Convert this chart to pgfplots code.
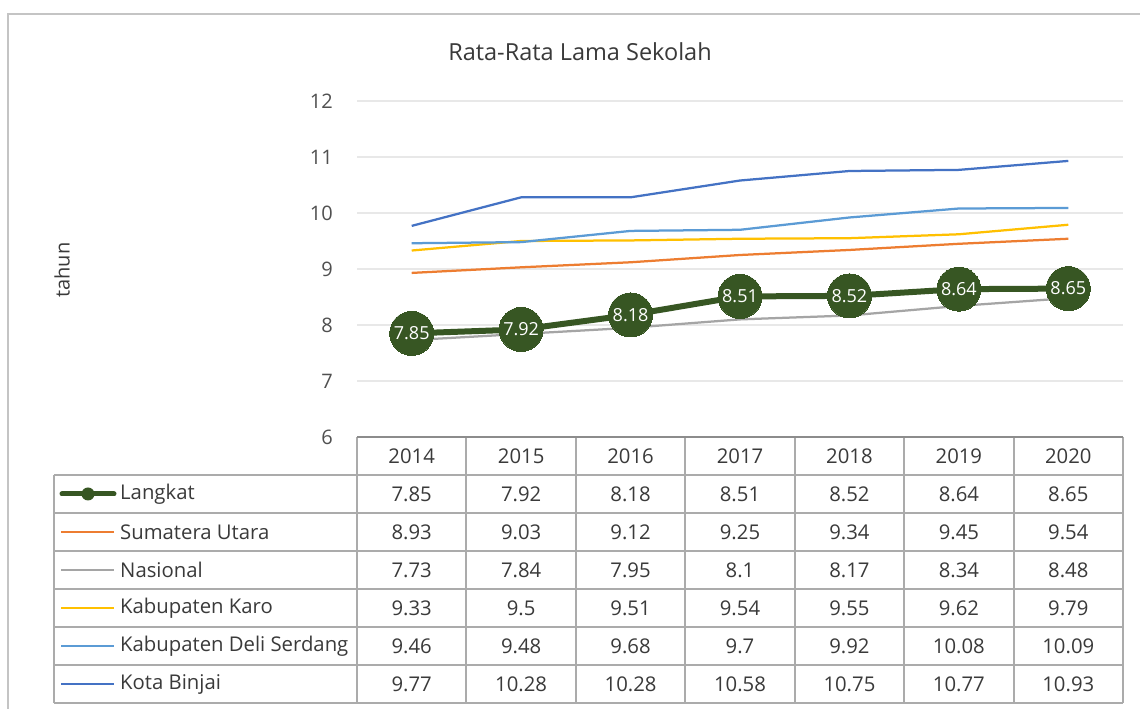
\documentclass[border=0pt]{standalone}
\usepackage{pgfplots}
\pgfplotsset{compat=1.18}
\usepackage{pgfplotstable}
\usepackage{fontspec}
\setmainfont{Open Sans}
\definecolor{langkat}{HTML}{375623}
\definecolor{sumut}{HTML}{ED7D31}
\definecolor{nas}{HTML}{A5A5A5}
\definecolor{karo}{HTML}{FFC000}
\definecolor{deli}{HTML}{5B9BD5}
\definecolor{binjai}{HTML}{4472C4}
\definecolor{txt}{HTML}{3A3A3A}
\definecolor{ticktxt}{HTML}{505050}
\definecolor{tbl}{HTML}{ABABAB}
\definecolor{frame}{HTML}{C4C4C4}

\pgfplotstableread{
x year Langkat Sumut Nasional Karo Deli Binjai
0 2014 7.85 8.93 7.73 9.33 9.46 9.77
1 2015 7.92 9.03 7.84 9.5 9.48 10.28
2 2016 8.18 9.12 7.95 9.51 9.68 10.28
3 2017 8.51 9.25 8.1 9.54 9.7 10.58
4 2018 8.52 9.34 8.17 9.55 9.92 10.75
5 2019 8.64 9.45 8.34 9.62 10.08 10.77
6 2020 8.65 9.54 8.48 9.79 10.09 10.93
}\data

\begin{document}
\begin{tikzpicture}[x=1pt,y=1pt]
\useasboundingbox (0,0) rectangle (1140,709);
\fill[white] (0,0) rectangle (1140,709);
\draw[frame, line width=2pt] (8,0) -- (8,695) -- (1140,695);

\node[text=txt, font=\fontsize{23.5}{26}\selectfont] at (580,657) {Rata-Rata Lama Sekolah};
\node[text=txt, rotate=90, font=\fontsize{20}{22}\selectfont] at (62,439) {tahun};

\begin{axis}[
  at={(357pt,272pt)}, anchor=south west,
  scale only axis, width=766pt, height=336pt,
  xmin=-0.5, xmax=6.5, ymin=6, ymax=12,
  ytick={6,7,...,12}, xtick=\empty,
  axis line style={draw=none},
  major tick length=0pt,
  ymajorgrids, grid style={color=black!9, line width=1.5pt},
  yticklabel style={font=\fontsize{20}{22}\selectfont, text=ticktxt, inner sep=0pt, xshift=-24pt},
  /pgf/number format/assume math mode=true,
  clip=false,
]
\addplot[langkat, line width=6pt, mark=*, mark size=22pt,
  mark options={fill=langkat, draw=langkat, line width=0pt}]
  table[x=x, y=Langkat]{\data};
\addplot[sumut, line width=2.25pt, no marks] table[x=x, y=Sumut]{\data};
\addplot[nas, line width=2.25pt, no marks] table[x=x, y=Nasional]{\data};
\addplot[karo, line width=2.25pt, no marks] table[x=x, y=Karo]{\data};
\addplot[deli, line width=2.25pt, no marks] table[x=x, y=Deli]{\data};
\addplot[binjai, line width=2.25pt, no marks] table[x=x, y=Binjai]{\data};
\addplot[draw=none, no marks, nodes near coords, point meta=explicit symbolic,
  every node near coord/.style={anchor=center, text=white, inner sep=0pt,
    font=\fontsize{18}{20}\selectfont}]
  table[x=x, y=Langkat, meta=Langkat]{\data};
\end{axis}

% data table
\draw[tbl, line width=2pt] (54,234) -- (1123,234);
\foreach \r in {1,...,6} {\draw[tbl, line width=2pt] (54,234-38*\r) -- (1123,234-38*\r);}
\draw[tbl, line width=2pt] (54,234) -- (54,6);
\foreach \k in {0,...,7} {\draw[tbl, line width=2pt] (357+109.43*\k,272) -- (357+109.43*\k,6);}
\draw[black!45, line width=2.5pt] (357,272) -- (1123,272);

\foreach \k in {0,...,6} {
  \pgfplotstablegetelem{\k}{year}\of\data
  \node[text=txt, font=\fontsize{20.3}{22}\selectfont] at (411.7+109.43*\k,253) {\pgfplotsretval};
}
\foreach \c [count=\i from 0] in {Langkat,Sumut,Nasional,Karo,Deli,Binjai} {
  \foreach \k in {0,...,6} {
    \pgfplotstablegetelem{\k}{\c}\of\data
    \node[text=txt, font=\fontsize{20.3}{22}\selectfont] at (411.7+109.43*\k,215-38*\i) {\pgfplotsretval};
  }
}
\foreach \nm/\col [count=\i from 0] in {Langkat/langkat, Sumatera Utara/sumut, Nasional/nas, Kabupaten Karo/karo, Kabupaten Deli Serdang/deli, Kota Binjai/binjai} {
  \node[text=txt, anchor=west, inner sep=0pt, font=\fontsize{20.3}{22}\selectfont] at (120,215-38*\i) {\nm};
}
\draw[langkat, line width=5pt, line cap=round] (62,215) -- (114,215);
\fill[langkat] (88,215) circle (6.5);
\foreach \col [count=\i from 1] in {sumut,nas,karo,deli,binjai} {
  \draw[\col, line width=2.25pt] (61,215-38*\i) -- (114,215-38*\i);
}
\end{tikzpicture}
\end{document}
